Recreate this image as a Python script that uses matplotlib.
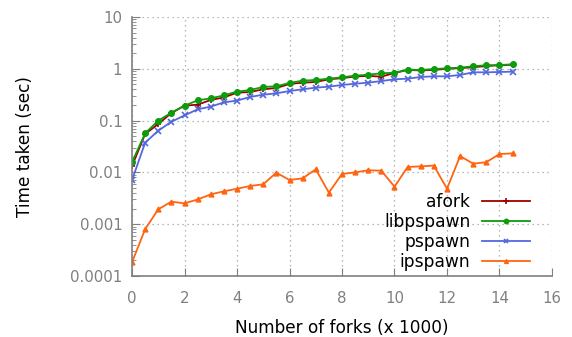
import matplotlib
matplotlib.use('Agg')
import matplotlib.pyplot as plt
from matplotlib.ticker import LogLocator, NullFormatter, FixedLocator

# Number of forks (x 1000)
forks = [0, 0.5, 1, 1.5, 2, 2.5, 3, 3.5, 4, 4.5, 5, 5.5, 6, 6.5, 7, 7.5,
         8, 8.5, 9, 9.5, 10, 10.5, 11, 11.5, 12, 12.5, 13, 13.5, 14, 14.5]

afork = [0.0133, 0.055, 0.086, 0.14, 0.194, 0.203, 0.25, 0.28, 0.346, 0.356,
         0.402, 0.426, 0.509, 0.54, 0.556, 0.627, 0.66, 0.71, 0.73, 0.705,
         0.83, 0.95, 0.93, 0.95, 1.0, 1.03, 1.07, 1.13, 1.17, 1.2]
libpspawn = [0.0157, 0.0568, 0.0998, 0.142, 0.194, 0.246, 0.269, 0.307, 0.362, 0.39,
             0.446, 0.459, 0.532, 0.59, 0.608, 0.644, 0.685, 0.736, 0.77, 0.818,
             0.84, 0.96, 0.948, 0.99, 1.02, 1.05, 1.12, 1.17, 1.18, 1.22]
pspawn = [0.0071, 0.0375, 0.0638, 0.095, 0.126, 0.165, 0.186, 0.225, 0.243, 0.286,
          0.316, 0.336, 0.372, 0.402, 0.432, 0.452, 0.487, 0.515, 0.54, 0.58,
          0.627, 0.644, 0.695, 0.716, 0.716, 0.76, 0.855, 0.855, 0.867, 0.88]
ipspawn = [0.000184, 0.0008, 0.00194, 0.00272, 0.00253, 0.003, 0.00377, 0.00431, 0.00484, 0.00546,
           0.0059, 0.00987, 0.00713, 0.00768, 0.01147, 0.00407, 0.00933, 0.01, 0.011, 0.0108,
           0.0053, 0.0127, 0.0131, 0.0135, 0.00484, 0.0207, 0.0147, 0.0158, 0.0226, 0.0233]

xticks = [0, 2, 4, 6, 8, 10, 12, 14, 16]
yticks = [0.0001, 0.001, 0.01, 0.1, 1, 10]
ylabels = ['0.0001', '0.001', '0.01', '0.1', '1', '10']

grey = '#808080'

fig = plt.figure(figsize=(5.72, 3.37), dpi=100)
ax = fig.add_axes([0.2308, 0.181, 0.7342, 0.7686])

ax.plot(forks, afork, color='#a00000', lw=1.3, marker='+', ms=5, mew=1.2, label='afork')
ax.plot(forks, libpspawn, color='#0c9c0c', lw=1.3, marker='o', ms=4, label='libpspawn')
ax.plot(forks, pspawn, color='#5468dc', lw=1.3, marker='x', ms=4, mew=1.2, label='pspawn')
ax.plot(forks, ipspawn, color='#ff6410', lw=1.3, marker='^', ms=3.5, label='ipspawn')

ax.set_yscale('log')
ax.set_xlim(0, 16)
ax.set_ylim(0.0001, 10)
ax.xaxis.set_major_locator(FixedLocator(xticks))
ax.yaxis.set_major_locator(FixedLocator(yticks))
ax.set_yticklabels(ylabels)
ax.yaxis.set_minor_locator(LogLocator(base=10, subs=range(2, 10), numticks=20))
ax.yaxis.set_minor_formatter(NullFormatter())

ax.tick_params(axis='both', which='both', direction='in', colors=grey,
               labelsize=10.8, labelcolor=grey)
ax.tick_params(axis='both', which='major', length=6)
ax.tick_params(axis='y', which='major', pad=7)
ax.tick_params(axis='x', which='major', pad=11)
ax.tick_params(axis='y', which='minor', length=3)
ax.tick_params(top=False, right=False)

for side in ['top', 'right']:
    ax.spines[side].set_visible(False)
for side in ['left', 'bottom']:
    ax.spines[side].set_color(grey)
    ax.spines[side].set_linewidth(1.2)

ax.grid(True, which='major', linestyle=(0, (1, 3)), color='#a0a0a0', lw=0.9)
ax.set_axisbelow(True)

ax.set_xlabel('Number of forks (x 1000)', fontsize=12.2, labelpad=9)
ax.set_ylabel('Time taken (sec)', fontsize=12.2, labelpad=26)

leg = ax.legend(loc='lower right', bbox_to_anchor=(0.948, 0.02), frameon=False,
                markerfirst=False, fontsize=12.3, handlelength=2.8, handletextpad=0.7,
                labelspacing=0.12, borderpad=0, borderaxespad=0, markerscale=0.8)

fig.savefig('out.png', dpi=100)
